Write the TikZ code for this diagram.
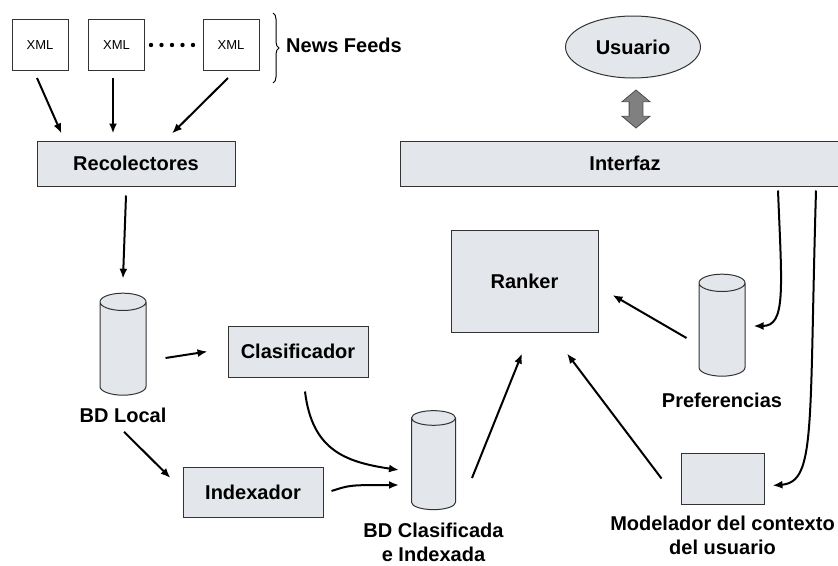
\documentclass[tikz,border=0pt]{standalone}
\usepackage{fontspec}
\setmainfont{Liberation Sans}
\usetikzlibrary{positioning}
\usetikzlibrary{arrows.meta}
\usetikzlibrary{shapes.geometric}
\usetikzlibrary{shapes.arrows}
\usetikzlibrary{decorations.pathreplacing}

\definecolor{boxgray}{RGB}{227,230,235}
\definecolor{arrowgray}{RGB}{128,128,128}

\tikzset{
  lbl/.style={font=\fontsize{20}{24}\selectfont\bfseries, align=center, inner sep=1pt},
  xmlbox/.style={draw=black!80, line width=1pt, minimum width=56pt, minimum height=51pt, font=\fontsize{13}{15}\selectfont},
  module/.style={draw=black!80, line width=1pt, fill=boxgray, font=\fontsize{20}{24}\selectfont\bfseries},
  db/.style={cylinder, shape border rotate=90, aspect=2.6, draw=black!80, line width=1pt, fill=boxgray, minimum width=46pt, minimum height=102pt},
  flow/.style={-{Latex[length=10pt,width=8pt]}, line width=2pt},
}

\begin{document}
\begin{tikzpicture}[x=1pt, y=1pt]
  \useasboundingbox (0,0) rectangle (838,-565);

  % news feeds
  \foreach \i/\x in {1/40,2/116.5,3/231} {
    \node[xmlbox] (xml\i) at (\x,-45) {XML};
  }
  \foreach \k in {0,...,4} {
    \fill (151+10.5*\k,-45) circle (2.2pt);
  }
  \draw[decorate, decoration={brace, amplitude=6pt}, line width=1pt] (273,-13) -- (273,-83);
  \node[lbl, anchor=west] (feeds) at (285,-45) {News Feeds};

  % left side
  \node[module, minimum width=198pt, minimum height=45pt] (reco) at (136,-163.5) {Recolectores};
  \node[db] (bdlocal) at (123,-351) {};
  \node[lbl, below=11pt of bdlocal] (bdlocallbl) {BD Local};
  \node[module, minimum width=140pt, minimum height=51pt] (clasif) at (298,-351.5) {Clasificador};
  \node[module, minimum width=140pt, minimum height=50pt] (index) at (253,-492) {Indexador};
  \node[db, minimum width=44pt, minimum height=99pt, aspect=2.2] (bdclas) at (433.5,-466) {};
  \node[lbl, below=12pt of bdclas] (bdclaslbl) {BD Clasificada\\e Indexada};

  % right side
  \node[ellipse, draw=black!80, line width=1pt, fill=boxgray, minimum width=135pt, minimum height=62pt, lbl] (usuario) at (633,-47) {Usuario};
  \node[double arrow, rotate=90, fill=arrowgray, draw=black!70, line width=0.8pt, minimum height=38pt, inner xsep=0pt, inner ysep=6.5pt, double arrow head extend=7pt, double arrow tip angle=100] (updown) at (636,-109) {};
  \node[module, minimum width=450pt, minimum height=45pt] (interfaz) at (625,-163.5) {Interfaz};
  \node[module, minimum width=147pt, minimum height=102pt] (ranker) at (524.5,-281) {Ranker};
  \node[db] (pref) at (722,-332) {};
  \node[lbl, below=15pt of pref] (preflbl) {Preferencias};
  \node[module, minimum width=83pt, minimum height=51pt] (model) at (722.5,-478.5) {};
  \node[lbl, below=10pt of model] (modellbl) {Modelador del contexto\\del usuario};

  % connectors
  \draw[flow] ([xshift=-3pt,yshift=-7pt]xml1.south) -- ([xshift=25pt,yshift=7pt]reco.north west);
  \draw[flow] ([xshift=-3.5pt,yshift=-7pt]xml2.south) -- ([xshift=-23pt,yshift=7pt]reco.north);
  \draw[flow] ([xshift=-3pt,yshift=-7pt]xml3.south) -- ([xshift=36pt,yshift=7pt]reco.north);
  \draw[flow] ([xshift=-10pt,yshift=-9pt]reco.south) -- ([yshift=14pt]bdlocal.north);
  \draw[flow] ([xshift=19pt,yshift=-7pt]bdlocal.east) -- ([xshift=-20pt]clasif.west);
  \draw[flow] ([xshift=1pt,yshift=-8pt]bdlocallbl.south) -- ([xshift=-12pt,yshift=14pt]index.west);
  \draw[flow] ([xshift=7pt,yshift=-14pt]clasif.south) .. controls (312,-450) and (345,-462) .. ([xshift=-12pt,yshift=-4pt]bdclas.west);
  \draw[flow] ([xshift=8pt,yshift=1pt]index.east) .. controls (350,-485) .. ([xshift=-12pt,yshift=-19pt]bdclas.west);
  \draw[flow] ([xshift=16pt,yshift=-12pt]bdclas.east) -- ([xshift=-2.5pt,yshift=-21pt]ranker.south);
  \draw[flow] ([xshift=-19pt,yshift=0pt]model.west) -- ([xshift=42.5pt,yshift=-21pt]ranker.south);
  \draw[flow] ([xshift=-12pt,yshift=-6pt]pref.west) -- ([xshift=14pt,yshift=-14pt]ranker.east);
  \draw[flow] ([xshift=153pt,yshift=-4pt]interfaz.south) .. controls (782,-290) and (786,-326) .. ([xshift=8pt,yshift=6pt]pref.east);
  \draw[flow] ([xshift=191pt,yshift=-4pt]interfaz.south) .. controls (809,-430) and (816,-482) .. ([xshift=8pt,yshift=-7pt]model.east);
\end{tikzpicture}
\end{document}
